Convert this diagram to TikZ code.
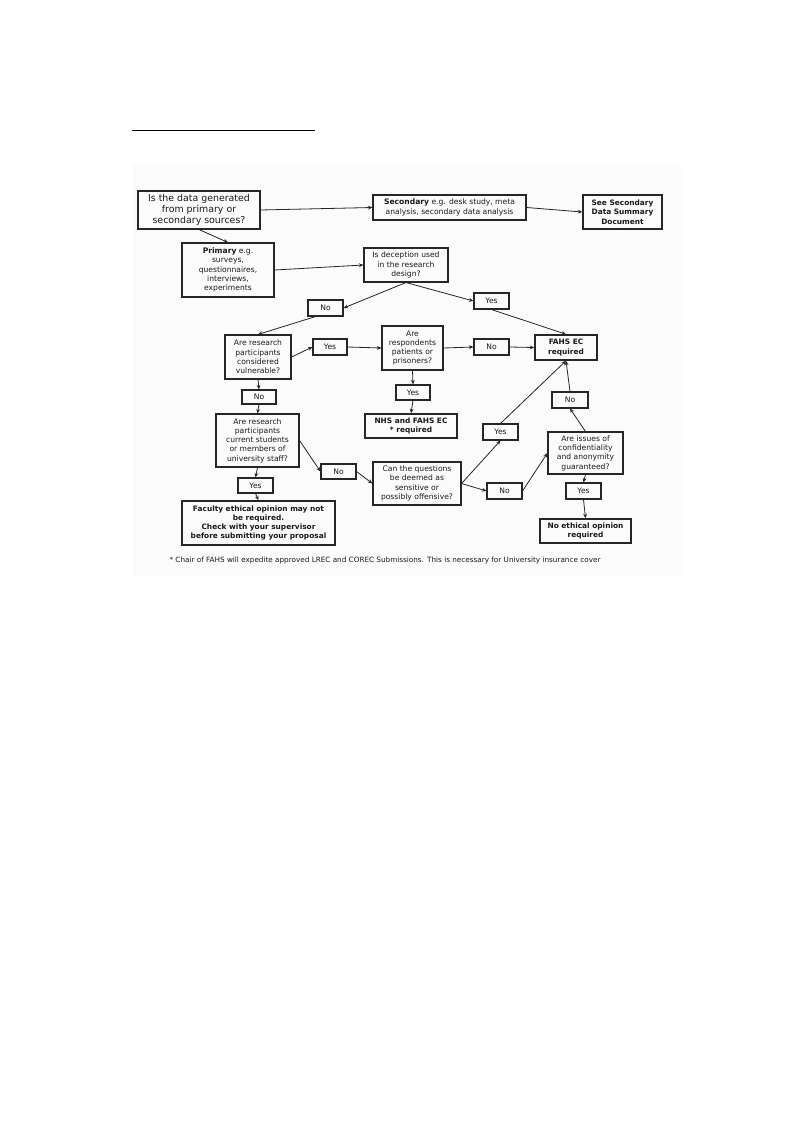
\documentclass[tikz,border=0pt]{standalone}
\usepackage{fontspec}
\setmainfont{DejaVu Sans}
\usetikzlibrary{arrows.meta}
\begin{document}
\begin{tikzpicture}[x=1pt,y=-1pt,
  base/.style={draw=black!85, line width=1.1pt, inner sep=0pt, align=center, text=black!90},
  qbox/.style={base, font=\fontsize{7.6}{9.3}\selectfont},
  bbox/.style={base, line width=1.5pt, font=\fontsize{7.4}{9.3}\selectfont\bfseries},
  lbox/.style={base, font=\fontsize{7.6}{9.3}\selectfont, minimum width=35pt, minimum height=16pt},
  conn/.style={draw=black!85, line width=0.8pt, -{Stealth[length=4.5pt,width=3.8pt]}}]
\useasboundingbox (0,0) rectangle (793,1123);
\fill[black!1.5] (133,164) rectangle (681,576);
\draw[line width=1pt] (132,131) -- (315,131);

% nodes
\node[base, font=\fontsize{9.4}{11}\selectfont, minimum width=122pt, minimum height=38pt] (q1) at (199,210)
  {Is the data generated\\from primary or\\secondary sources?};
\node[qbox, minimum width=153pt, minimum height=25pt] (sec) at (449.5,207.5)
  {\textbf{Secondary} e.g. desk study, meta\\analysis, secondary data analysis};
\node[bbox, minimum width=79pt, minimum height=34pt] (seesec) at (622.5,212)
  {See Secondary\\Data Summary\\Document};
\node[qbox, minimum width=92pt, minimum height=54pt] (prim) at (228,270)
  {\textbf{Primary} e.g.\\surveys,\\questionnaires,\\interviews,\\experiments};
\node[qbox, minimum width=84pt, minimum height=34pt] (dec) at (406,265)
  {Is deception used\\in the research\\design?};
\node[lbox] (no1) at (325.5,308) {No};
\node[lbox] (yes1) at (491.5,301) {Yes};
\node[qbox, minimum width=66pt, minimum height=44pt] (vul) at (258,357)
  {Are research\\participants\\considered\\vulnerable?};
\node[lbox, minimum width=34pt] (yes2) at (330,347) {Yes};
\node[qbox, minimum width=61pt, minimum height=44pt] (pat) at (412.5,348)
  {Are\\respondents\\patients or\\prisoners?};
\node[lbox] (no2) at (491.5,347) {No};
\node[bbox, minimum width=62pt, minimum height=25pt] (fahs) at (566,347.5)
  {FAHS EC\\required};
\node[lbox, minimum width=34pt, minimum height=14pt] (no3) at (259,397) {No};
\node[lbox, minimum width=34pt, minimum height=15pt] (yes3) at (413,392.5) {Yes};
\node[bbox, minimum width=92pt, minimum height=24pt] (nhs) at (411,426)
  {NHS and FAHS EC\\* required};
\node[lbox, minimum width=36pt] (no4) at (570,400) {No};
\node[qbox, minimum width=83pt, minimum height=53pt] (stud) at (257.5,440.5)
  {Are research\\participants\\current students\\or members of\\university staff?};
\node[lbox] (yes4) at (500.5,432) {Yes};
\node[qbox, minimum width=75pt, minimum height=42pt] (conf) at (585.5,453)
  {Are issues of\\confidentiality\\and anonymity\\guaranteed?};
\node[lbox, minimum height=15pt] (no5) at (338.5,471.5) {No};
\node[qbox, minimum width=88pt, minimum height=43pt] (sens) at (417,483.5)
  {Can the questions\\be deemed as\\sensitive or\\possibly offensive?};
\node[lbox] (no6) at (504.5,491) {No};
\node[lbox, minimum height=15pt] (yes5) at (255.5,485.5) {Yes};
\node[lbox] (yes6) at (583.5,491) {Yes};
\node[bbox, minimum width=153pt, minimum height=44pt] (fac) at (258.5,523)
  {Faculty ethical opinion may not\\be required.\\Check with your supervisor\\before submitting your proposal};
\node[bbox, minimum width=91pt, minimum height=24pt] (noeth) at (585.5,531)
  {No ethical opinion\\required};
\node[font=\fontsize{7.25}{9}\selectfont, text=black!90, inner sep=0pt] (foot) at (385,560)
  {* Chair of FAHS will expedite approved LREC and COREC Submissions. This is necessary for University insurance cover};

% connectors
\draw[conn] (q1.east) -- (sec.west);
\draw[conn] (sec.east) -- (seesec.west);
\draw[conn] (q1.south) -- (prim.north);
\draw[conn] (prim.east) -- (dec.west);
\draw[conn] (dec.south) -- (no1.east);
\draw[conn] (dec.south) -- (yes1.west);
\draw[conn] ([xshift=-10pt]no1.south) -- (vul.north);
\draw[conn] (vul.east) -- (yes2.west);
\draw[conn] (yes2.east) -- (pat.west);
\draw[conn] (pat.east) -- (no2.west);
\draw[conn] (no2.east) -- (fahs.west);
\draw[conn] (yes1.south) -- (fahs.north);
\draw[conn] (vul.south) -- (no3.north);
\draw[conn] (pat.south) -- (yes3.north);
\draw[conn] (yes3.south) -- (nhs.north);
\draw[conn] (no3.south) -- (stud.north);
\draw[conn] (stud.east) -- (no5.west);
\draw[conn] (no5.east) -- (sens.west);
\draw[conn] (stud.south) -- (yes5.north);
\draw[conn] (yes5.south) -- (fac.north);
\draw[conn] (sens.east) -- (yes4.south);
\draw[conn] (sens.east) -- (no6.west);
\draw[conn] (no6.east) -- (conf.west);
\draw[conn] (yes4.north) -- (fahs.south);
\draw[conn] (conf.north) -- (no4.south);
\draw[conn] (no4.north) -- (fahs.south);
\draw[conn] (conf.south) -- (yes6.north);
\draw[conn] (yes6.south) -- (noeth.north);
\end{tikzpicture}
\end{document}
